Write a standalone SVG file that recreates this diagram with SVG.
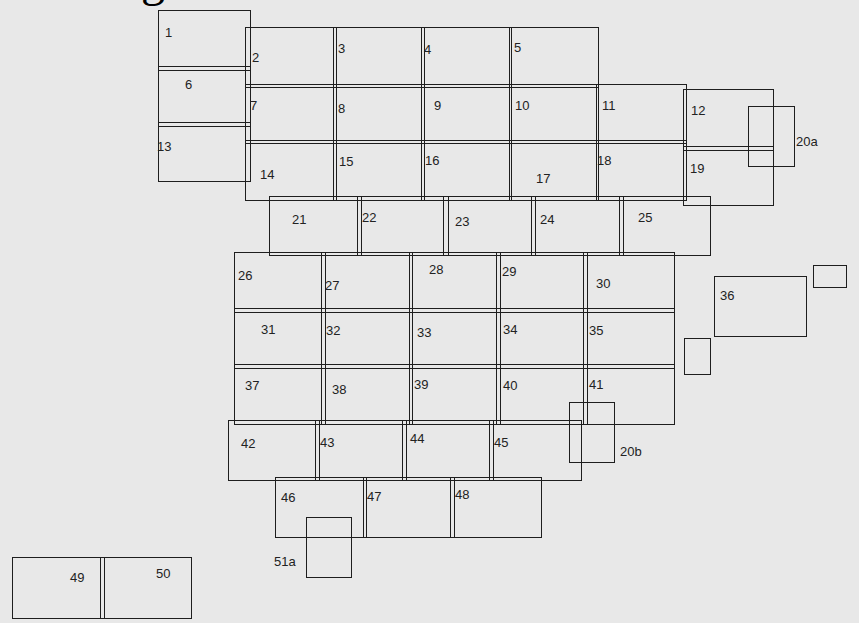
<svg xmlns="http://www.w3.org/2000/svg" width="859" height="623" viewBox="0 0 859 623">
<style>
.b{fill:none;stroke:#1e1e1e;stroke-width:1}
.t{font-family:"Liberation Sans",Arial,sans-serif;font-size:13px;fill:#222}
</style>
<rect x="0" y="0" width="859" height="623" fill="#e8e8e8"/>
<text x="141" y="-4.5" font-family="'Liberation Serif',serif" font-size="48" fill="#000">g</text>
<g id="connectors"/>
<g id="n1"><rect class="b" x="158.5" y="10.5" width="92" height="60"/><text class="t" x="165" y="37">1</text></g>
<g id="n6"><rect class="b" x="158.5" y="66.5" width="92" height="60"/><text class="t" x="185" y="89">6</text></g>
<g id="n13"><rect class="b" x="158.5" y="122.5" width="92" height="59"/><text class="t" x="157" y="151">13</text></g>
<g id="n2"><rect class="b" x="245.5" y="27.5" width="91" height="60"/><text class="t" x="252" y="62">2</text></g>
<g id="n3"><rect class="b" x="333.5" y="27.5" width="91" height="60"/><text class="t" x="338" y="53">3</text></g>
<g id="n4"><rect class="b" x="421.5" y="27.5" width="90" height="60"/><text class="t" x="424" y="54">4</text></g>
<g id="n5"><rect class="b" x="509.5" y="27.5" width="89" height="60"/><text class="t" x="514" y="52">5</text></g>
<g id="n7"><rect class="b" x="245.5" y="84.5" width="91" height="59"/><text class="t" x="250" y="110">7</text></g>
<g id="n8"><rect class="b" x="333.5" y="84.5" width="91" height="59"/><text class="t" x="338" y="113">8</text></g>
<g id="n9"><rect class="b" x="421.5" y="84.5" width="90" height="59"/><text class="t" x="434" y="110">9</text></g>
<g id="n10"><rect class="b" x="509.5" y="84.5" width="89" height="59"/><text class="t" x="515" y="110">10</text></g>
<g id="n11"><rect class="b" x="596.5" y="84.5" width="90" height="59"/><text class="t" x="602" y="110">11</text></g>
<g id="n14"><rect class="b" x="245.5" y="140.5" width="91" height="60"/><text class="t" x="260" y="179">14</text></g>
<g id="n15"><rect class="b" x="333.5" y="140.5" width="91" height="60"/><text class="t" x="339" y="166">15</text></g>
<g id="n16"><rect class="b" x="421.5" y="140.5" width="90" height="60"/><text class="t" x="425" y="165">16</text></g>
<g id="n17"><rect class="b" x="509.5" y="140.5" width="89" height="60"/><text class="t" x="536" y="183">17</text></g>
<g id="n18"><rect class="b" x="596.5" y="140.5" width="90" height="60"/><text class="t" x="597" y="165">18</text></g>
<g id="n12"><rect class="b" x="683.5" y="89.5" width="90" height="61"/><text class="t" x="691" y="115">12</text></g>
<g id="n19"><rect class="b" x="683.5" y="146.5" width="90" height="59"/><text class="t" x="690" y="173">19</text></g>
<g id="n20a"><rect class="b" x="748.5" y="106.5" width="46" height="60"/><text class="t" x="796" y="146">20a</text></g>
<g id="n21"><rect class="b" x="269.5" y="196.5" width="92" height="59"/><text class="t" x="292" y="224">21</text></g>
<g id="n22"><rect class="b" x="357.5" y="196.5" width="91" height="59"/><text class="t" x="362" y="222">22</text></g>
<g id="n23"><rect class="b" x="443.5" y="196.5" width="92" height="59"/><text class="t" x="455" y="226">23</text></g>
<g id="n24"><rect class="b" x="531.5" y="196.5" width="92" height="59"/><text class="t" x="540" y="224">24</text></g>
<g id="n25"><rect class="b" x="619.5" y="196.5" width="91" height="59"/><text class="t" x="638" y="222">25</text></g>
<g id="n26"><rect class="b" x="234.5" y="252.5" width="91" height="60"/><text class="t" x="238" y="280">26</text></g>
<g id="n27"><rect class="b" x="321.5" y="252.5" width="91" height="60"/><text class="t" x="325" y="290">27</text></g>
<g id="n28"><rect class="b" x="409.5" y="252.5" width="91" height="60"/><text class="t" x="429" y="274">28</text></g>
<g id="n29"><rect class="b" x="496.5" y="252.5" width="91" height="60"/><text class="t" x="502" y="276">29</text></g>
<g id="n30"><rect class="b" x="583.5" y="252.5" width="91" height="60"/><text class="t" x="596" y="288">30</text></g>
<g id="n31"><rect class="b" x="234.5" y="308.5" width="91" height="60"/><text class="t" x="261" y="334">31</text></g>
<g id="n32"><rect class="b" x="321.5" y="308.5" width="91" height="60"/><text class="t" x="326" y="335">32</text></g>
<g id="n33"><rect class="b" x="409.5" y="308.5" width="91" height="60"/><text class="t" x="417" y="337">33</text></g>
<g id="n34"><rect class="b" x="496.5" y="308.5" width="91" height="60"/><text class="t" x="503" y="334">34</text></g>
<g id="n35"><rect class="b" x="583.5" y="308.5" width="91" height="60"/><text class="t" x="589" y="335">35</text></g>
<g id="n37"><rect class="b" x="234.5" y="364.5" width="91" height="60"/><text class="t" x="245" y="390">37</text></g>
<g id="n38"><rect class="b" x="321.5" y="364.5" width="91" height="60"/><text class="t" x="332" y="394">38</text></g>
<g id="n39"><rect class="b" x="409.5" y="364.5" width="91" height="60"/><text class="t" x="414" y="389">39</text></g>
<g id="n40"><rect class="b" x="496.5" y="364.5" width="91" height="60"/><text class="t" x="503" y="390">40</text></g>
<g id="n41"><rect class="b" x="583.5" y="364.5" width="91" height="60"/><text class="t" x="589" y="389">41</text></g>
<g id="n42"><rect class="b" x="228.5" y="420.5" width="91" height="60"/><text class="t" x="241" y="448">42</text></g>
<g id="n43"><rect class="b" x="315.5" y="420.5" width="91" height="60"/><text class="t" x="320" y="447">43</text></g>
<g id="n44"><rect class="b" x="402.5" y="420.5" width="91" height="60"/><text class="t" x="410" y="443">44</text></g>
<g id="n45"><rect class="b" x="489.5" y="420.5" width="92" height="60"/><text class="t" x="494" y="447">45</text></g>
<g id="n20b"><rect class="b" x="569.5" y="402.5" width="45" height="60"/><text class="t" x="620" y="456">20b</text></g>
<g id="n46"><rect class="b" x="275.5" y="477.5" width="91" height="60"/><text class="t" x="281" y="502">46</text></g>
<g id="n47"><rect class="b" x="363.5" y="477.5" width="91" height="60"/><text class="t" x="367" y="501">47</text></g>
<g id="n48"><rect class="b" x="450.5" y="477.5" width="91" height="60"/><text class="t" x="455" y="499">48</text></g>
<g id="n51a"><rect class="b" x="306.5" y="517.5" width="45" height="60"/><text class="t" x="274" y="566">51a</text></g>
<g id="n36"><rect class="b" x="714.5" y="276.5" width="92" height="60"/><text class="t" x="720" y="300">36</text></g>
<g id="box-small-a"><rect class="b" x="813.5" y="265.5" width="33" height="22"/></g>
<g id="box-small-b"><rect class="b" x="684.5" y="338.5" width="26" height="36"/></g>
<g id="n49"><rect class="b" x="12.5" y="557.5" width="92" height="61"/><text class="t" x="70" y="582">49</text></g>
<g id="n50"><rect class="b" x="100.5" y="557.5" width="91" height="61"/><text class="t" x="156" y="578">50</text></g>
</svg>
